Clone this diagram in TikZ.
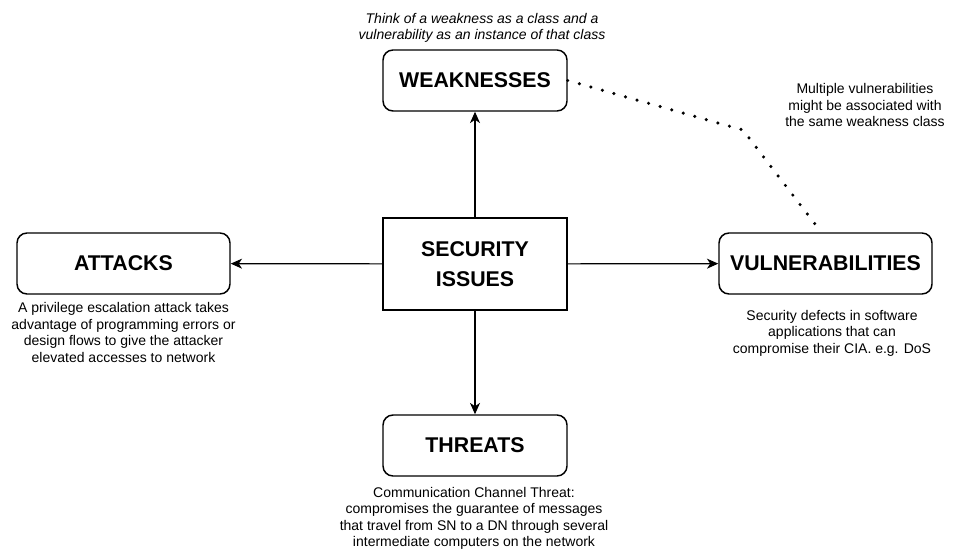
\documentclass[tikz,border=0pt]{standalone}
\usepackage{fontspec}
\setmainfont{Liberation Sans}
\usetikzlibrary{arrows.meta}
\begin{document}
\begin{tikzpicture}[x=0.75pt,y=-0.75pt,
  box/.style={draw=black,line width=1.1pt,rounded corners=7.5pt,fill=white,inner sep=0pt,
    minimum width=138pt,minimum height=45.75pt,align=center,
    font=\fontsize{16}{19}\selectfont\bfseries},
  wide/.style={box,minimum width=159.75pt},
  centerbox/.style={draw=black,line width=1.1pt,fill=white,inner sep=0pt,
    minimum width=138pt,minimum height=69pt,align=center,
    font=\fontsize{16}{22.5}\selectfont\bfseries},
  note/.style={align=center,inner sep=0pt,font=\fontsize{10.5}{12.3}\selectfont},
  inote/.style={note,font=\fontsize{10.5}{12.3}\selectfont\itshape},
  arr/.style={line width=0.9pt,-{Stealth[length=8.5pt,width=7.5pt,inset=2.5pt]}},
  dotline/.style={line width=2.6pt,line cap=round,dash pattern=on 0pt off 9pt}]
\useasboundingbox (0,0) rectangle (957,549);
\node[centerbox] (sec) at (475,264) {SECURITY\\ISSUES};
\node[box] (weak) at (475,80.5) {WEAKNESSES};
\node[wide] (att) at (123.5,263.5) {ATTACKS};
\node[wide] (vuln) at (825.5,263.5) {VULNERABILITIES};
\node[box] (thr) at (475,445.5) {THREATS};
\draw[arr] (sec) -- (weak);
\draw[arr] (sec) -- (att);
\draw[arr] (sec) -- (vuln);
\draw[arr] (sec) -- (thr);
\coordinate (bend) at (743,130);
\coordinate (vtop) at (818,228);
\draw[dotline] (weak.east) -- (bend) -- (vtop);
\node[inote] (tnote) at (482,28) {Think of a weakness as a class and a\\vulnerability as an instance of that class};
\node[note] (mnote) at (865,105) {Multiple vulnerabilities\\might be associated with\\the same weakness class};
\node[note] (anote) at (123.5,332.5) {A privilege escalation attack takes\\advantage of programming errors or\\design flows to give the attacker\\elevated accesses to network};
\node[note] (vnote) at (832,333) {Security defects in software\\applications that can\\compromise their CIA. e.g. DoS};
\node[note] (thnote) at (474,518.5) {Communication Channel Threat:\\compromises the guarantee of messages\\that travel from SN to a DN through several\\intermediate computers on the network};
\end{tikzpicture}
\end{document}
